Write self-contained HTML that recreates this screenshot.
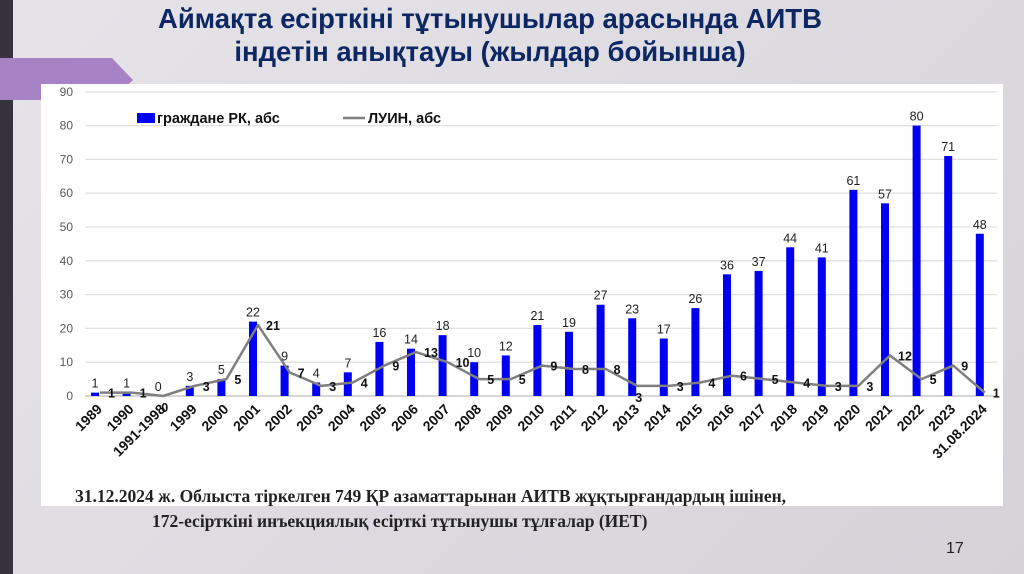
<!DOCTYPE html>
<html><head><meta charset="utf-8"><style>
html,body{margin:0;padding:0;width:1024px;height:574px;overflow:hidden}
body{background:linear-gradient(135deg,#e6e4e9,#d5d3d8);position:relative;font-family:"Liberation Sans",sans-serif}
</style></head><body>
<div style="position:absolute;left:0;top:0;width:13px;height:574px;background:#36333f"></div>
<svg style="position:absolute;left:0;top:58px" width="140" height="44"><polygon points="0,0 112,0 133,22 112,42 0,42" fill="#a783c6"/></svg>
<div style="position:absolute;left:41px;top:84px;width:962px;height:422px;background:#fff"></div>
<div style="position:absolute;left:100px;top:2px;width:780px;text-align:center;font-weight:bold;font-size:27.5px;line-height:33px;color:#0c2763">Аймақта есірткіні тұтынушылар арасында АИТВ<br>індетін анықтауы (жылдар бойынша)</div>
<svg id="chart" style="position:absolute;left:0;top:0" width="1024" height="574"></svg>
<div style="position:absolute;left:75px;top:486px;font-family:'Liberation Serif',serif;font-weight:bold;font-size:17.5px;color:#222;white-space:nowrap">31.12.2024 ж. Облыста тіркелген 749 ҚР азаматтарынан АИТВ жұқтырғандардың ішінен,</div>
<div style="position:absolute;left:152px;top:511px;font-family:'Liberation Serif',serif;font-weight:bold;font-size:17.5px;color:#222;white-space:nowrap">172-есірткіні инъекциялық есірткі тұтынушы тұлғалар (ИЕТ)</div>
<div style="position:absolute;left:946px;top:540px;font-size:16px;color:#222">17</div>
<script>
const categories=["1989","1990","1991-1998","1999","2000","2001","2002","2003","2004","2005","2006","2007","2008","2009","2010","2011","2012","2013","2014","2015","2016","2017","2018","2019","2020","2021","2022","2023","31.08.2024"];
const citizens=[1,1,0,3,5,22,9,4,7,16,14,18,10,12,21,19,27,23,17,26,36,37,44,41,61,57,80,71,48];
const luin=[1,1,0,3,5,21,7,3,4,9,13,10,5,5,9,8,8,3,3,4,6,5,4,3,3,12,5,9,1];
const yTicks=[0,10,20,30,40,50,60,70,80,90];
const NS="http://www.w3.org/2000/svg";
const svg=document.getElementById('chart');
const y=v=>396-v*3.38;
const x=i=>95+i*31.6;
function mk(t,a,txt){const e=document.createElementNS(NS,t);for(const k in a)e.setAttribute(k,a[k]);if(txt!==undefined)e.textContent=txt;svg.appendChild(e);return e;}
yTicks.forEach(v=>{
 const g=mk('line',{x1:85,x2:997,y1:y(v),y2:y(v),stroke:v===0?'#bfbfbf':'#e0e0e0','stroke-width':1.3});
 
 
 const t=mk('text',{x:73,y:y(v)+4,'text-anchor':'end','font-size':12,fill:'#595959'},v);
 
 
});
categories.forEach((c,i)=>{
 const b=mk('rect',{x:x(i)-4,y:y(citizens[i]),width:8,height:396-y(citizens[i]),fill:'#0000f5'});
 
 
 const l=mk('text',{x:x(i),y:y(citizens[i])-5,'text-anchor':'middle','font-size':12.5,fill:'#222'},citizens[i]);
 
 
 const xl=mk('text',{transform:`translate(${x(i)+8},410) rotate(-45)`,'text-anchor':'end','font-size':14,'font-weight':'bold',fill:'#111'},c);
 
 
});
const pts=luin.map((v,i)=>(x(i)+5)+','+y(v)).join(' ');
const pl=mk('polyline',{points:pts,fill:'none',stroke:'#7f7f7f','stroke-width':2.5,'stroke-linejoin':'round'});


luin.forEach((v,i)=>{
 const below=(v===0||i===17);
 const t=mk('text',{x:below?x(i)+3:x(i)+13,y:below?y(v)+16:y(v)+5,'font-size':12.5,'font-weight':'bold',fill:'#111'},v);
 
 
});
const lg1=mk('rect',{x:137,y:113,width:18,height:10,fill:'#0000f5'});


const lt1=mk('text',{x:157,y:123,'font-size':14.5,'font-weight':'bold',fill:'#111'},'граждане РК, абс');


const lg2=mk('line',{x1:343,x2:365,y1:118,y2:118,stroke:'#7f7f7f','stroke-width':2.5});


const lt2=mk('text',{x:368,y:123,'font-size':14.5,'font-weight':'bold',fill:'#111'},'ЛУИН, абс');


</script>
</body></html>
